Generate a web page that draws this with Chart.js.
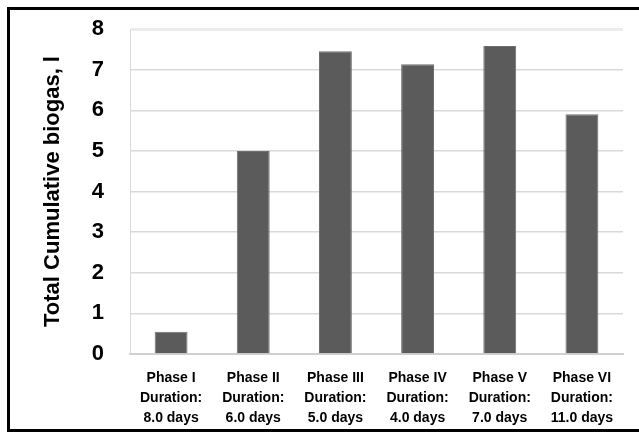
<!DOCTYPE html>
<html>
<head>
<meta charset="utf-8">
<script src="https://cdn.jsdelivr.net/npm/chart.js@4.4.0/dist/chart.umd.min.js"></script>
<style>
  html, body { margin: 0; padding: 0; background: #fff; overflow: hidden; }
  #frame {
    position: absolute; left: 7px; top: 7px;
    width: 700px; height: 419px;
    border: 3px solid #000;
  }
  #wrap { position: absolute; left: 0; top: 0; width: 639px; height: 435px; }
</style>
</head>
<body>
<div id="frame"></div>
<div id="wrap"><canvas id="biogasChart" width="639" height="435"></canvas></div>
<script>
// phases and the total cumulative biogas per phase
const phases = ["Phase I", "Phase II", "Phase III", "Phase IV", "Phase V", "Phase VI"];
const durations = ["8.0 days", "6.0 days", "5.0 days", "4.0 days", "7.0 days", "11.0 days"];
const biogas = [0.55, 5.0, 7.45, 7.13, 7.58, 5.9];
const yTicks = [0, 1, 2, 3, 4, 5, 6, 7, 8];

const labels = phases.map((p, i) => [p, "Duration:", durations[i]]);

const ctx = document.getElementById("biogasChart").getContext("2d");
new Chart(ctx, {
  type: "bar",
  data: {
    labels: labels,
    datasets: [
      {
        label: "Total Cumulative biogas",
        data: biogas,
        backgroundColor: "#5b5b5b",
        borderColor: "#6f6f6f",
        borderWidth: 1,
        categoryPercentage: 1.0,
        barPercentage: 0.4,
      },
    ],
  },
  options: {
    responsive: false,
    animation: false,
    layout: {
      padding: { left: 40, right: 16, top: 29, bottom: 0 },
    },
    plugins: {
      legend: { display: false },
      tooltip: { enabled: false },
    },
    scales: {
      x: {
        grid: { display: false },
        border: { display: true, color: "#d0d0d0", width: 2 },
        ticks: {
          color: "#000",
          padding: 6,
          maxRotation: 0,
          autoSkip: false,
          font: { family: "'Liberation Sans', Arial, sans-serif", size: 14, weight: "bold", lineHeight: 1.43 },
        },
        afterFit: (scale) => {
          scale.height = 81;
        },
      },
      y: {
        min: 0,
        max: 8,
        afterBuildTicks: (scale) => {
          scale.ticks = yTicks.map((v) => ({ value: v }));
        },
        grid: {
          drawTicks: false,
          color: (c) => (c.tick && c.tick.value === 8 ? "#ececec" : "#d9d9d9"),
          lineWidth: (c) => (c.tick && c.tick.value === 8 ? 3 : 1.5),
        },
        border: { display: true, color: "#d9d9d9", width: 1 },
        ticks: {
          color: "#000",
          padding: 26,
          font: { family: "'Liberation Sans Narrow', 'Liberation Sans', Arial, sans-serif", size: 22, weight: "bold" },
        },
        title: {
          display: true,
          text: "Total Cumulative biogas, l",
          color: "#000",
          padding: 0,
          font: { family: "'Liberation Sans', Arial, sans-serif", size: 22, weight: "bold", lineHeight: 1.2 },
        },
        afterFit: (scale) => {
          scale.width = 90;
          // tick padding is otherwise added above the top label too
          scale.paddingTop = 0;
          scale.paddingBottom = 0;
        },
      },
    },
  },
});
</script>
</body>
</html>
